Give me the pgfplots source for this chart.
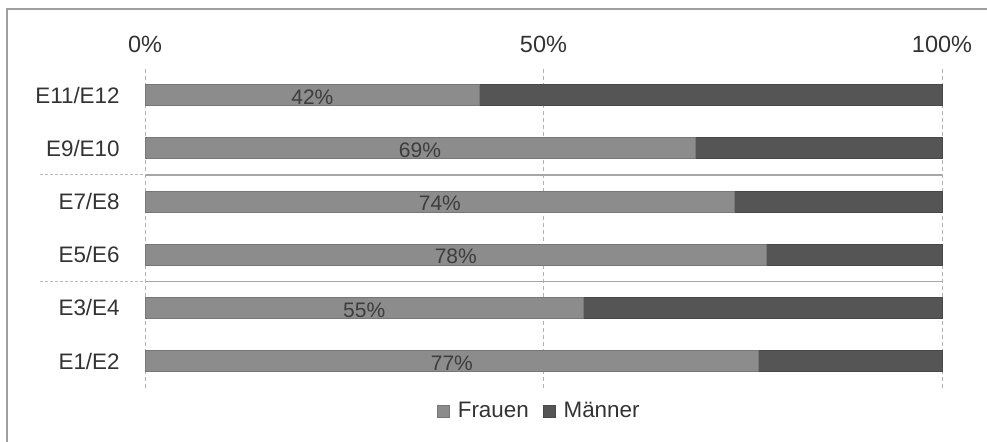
\documentclass[border=0pt]{standalone}
\usepackage{fontspec}
\setmainfont{Liberation Sans}
\usepackage{pgfplots}
\pgfplotsset{compat=1.18}
\usepackage{pgfplotstable}
\definecolor{frauen}{HTML}{8C8C8C}
\definecolor{maenner}{HTML}{555555}
\definecolor{txt}{HTML}{333333}
\pgfplotstableread{
y f m
0 77 23
1 55 45
2 78 22
3 74 26
4 69 31
5 42 58
}\data
\begin{document}
\begin{tikzpicture}
\useasboundingbox (0,0) rectangle (493.5pt,220.5pt);
\clip (0,0) rectangle (493.5pt,220.5pt);
\draw[gray!75, line width=1pt] (3.5pt,-20pt) rectangle (520pt,216pt);
\begin{axis}[
  at={(72.5pt,26.7pt)}, anchor=south west,
  scale only axis, width=398.5pt, height=159.5pt,
  xbar stacked, bar width=10.5pt,
  xmin=0, xmax=100, ymin=-0.5, ymax=5.5,
  axis line style={draw=none},
  major tick length=0pt,
  tick style={draw=none},
  xtick={0,50,100}, xticklabels={0\%,50\%,100\%},
  xticklabel pos=upper,
  xticklabel style={inner sep=0pt, anchor=south, yshift=7.5pt, text=txt, font=\fontsize{11.75}{14}\selectfont},
  ytick={0,1,2,3,4,5},
  yticklabels={E1/E2,E3/E4,E5/E6,E7/E8,E9/E10,E11/E12},
  yticklabel style={inner sep=0pt, anchor=east, xshift=-12.5pt, text=txt, font=\fontsize{11.2}{13}\selectfont},
  xmajorgrids, ymajorgrids=false,
  major grid style={gray!60, dash pattern=on 2pt off 1.5pt, line width=0.5pt},
  clip=false,
  legend style={at={(0.496,-0.075)}, anchor=center, draw=none, fill=none,
    legend columns=2, font=\fontsize{11.2}{13}\selectfont, text=txt,
    /tikz/every even column/.append style={column sep=5pt}},
  legend image code/.code={\draw[#1] (0pt,-3pt) rectangle (6pt,3pt); \path (8pt,0pt);},
]
\draw[gray!55, dash pattern=on 1.5pt off 1pt, line width=0.5pt] (axis cs:-13.2,3.5) -- (axis cs:0,3.5);
\draw[gray!70, line width=0.6pt] (axis cs:0,3.5) -- (axis cs:100,3.5);
\draw[gray!55, dash pattern=on 1.5pt off 1pt, line width=0.5pt] (axis cs:-13.2,1.5) -- (axis cs:0,1.5);
\draw[gray!70, line width=0.6pt] (axis cs:0,1.5) -- (axis cs:100,1.5);
\addplot[fill=frauen, draw=frauen!85!black, line width=0.4pt] table[x=f,y=y]{\data};
\addplot[fill=maenner, draw=maenner!85!black, line width=0.4pt] table[x=m,y=y]{\data};
\legend{Frauen, Männer}
\end{axis}
\begin{axis}[
  at={(72.5pt,26.7pt)}, anchor=south west,
  scale only axis, width=398.5pt, height=159.5pt,
  xmin=0, xmax=100, ymin=-0.5, ymax=5.5,
  hide axis, clip=false,
  /pgf/number format/assume math mode=true,
]
\addplot[only marks, mark=none, point meta=\thisrow{f},
  nodes near coords={\pgfmathprintnumber{\pgfplotspointmeta}\%},
  nodes near coords style={anchor=center, yshift=-1pt, text=txt!95, font=\fontsize{10.5}{12}\selectfont}]
  table[x expr=\thisrow{f}/2, y=y]{\data};
\end{axis}
\end{tikzpicture}
\end{document}
